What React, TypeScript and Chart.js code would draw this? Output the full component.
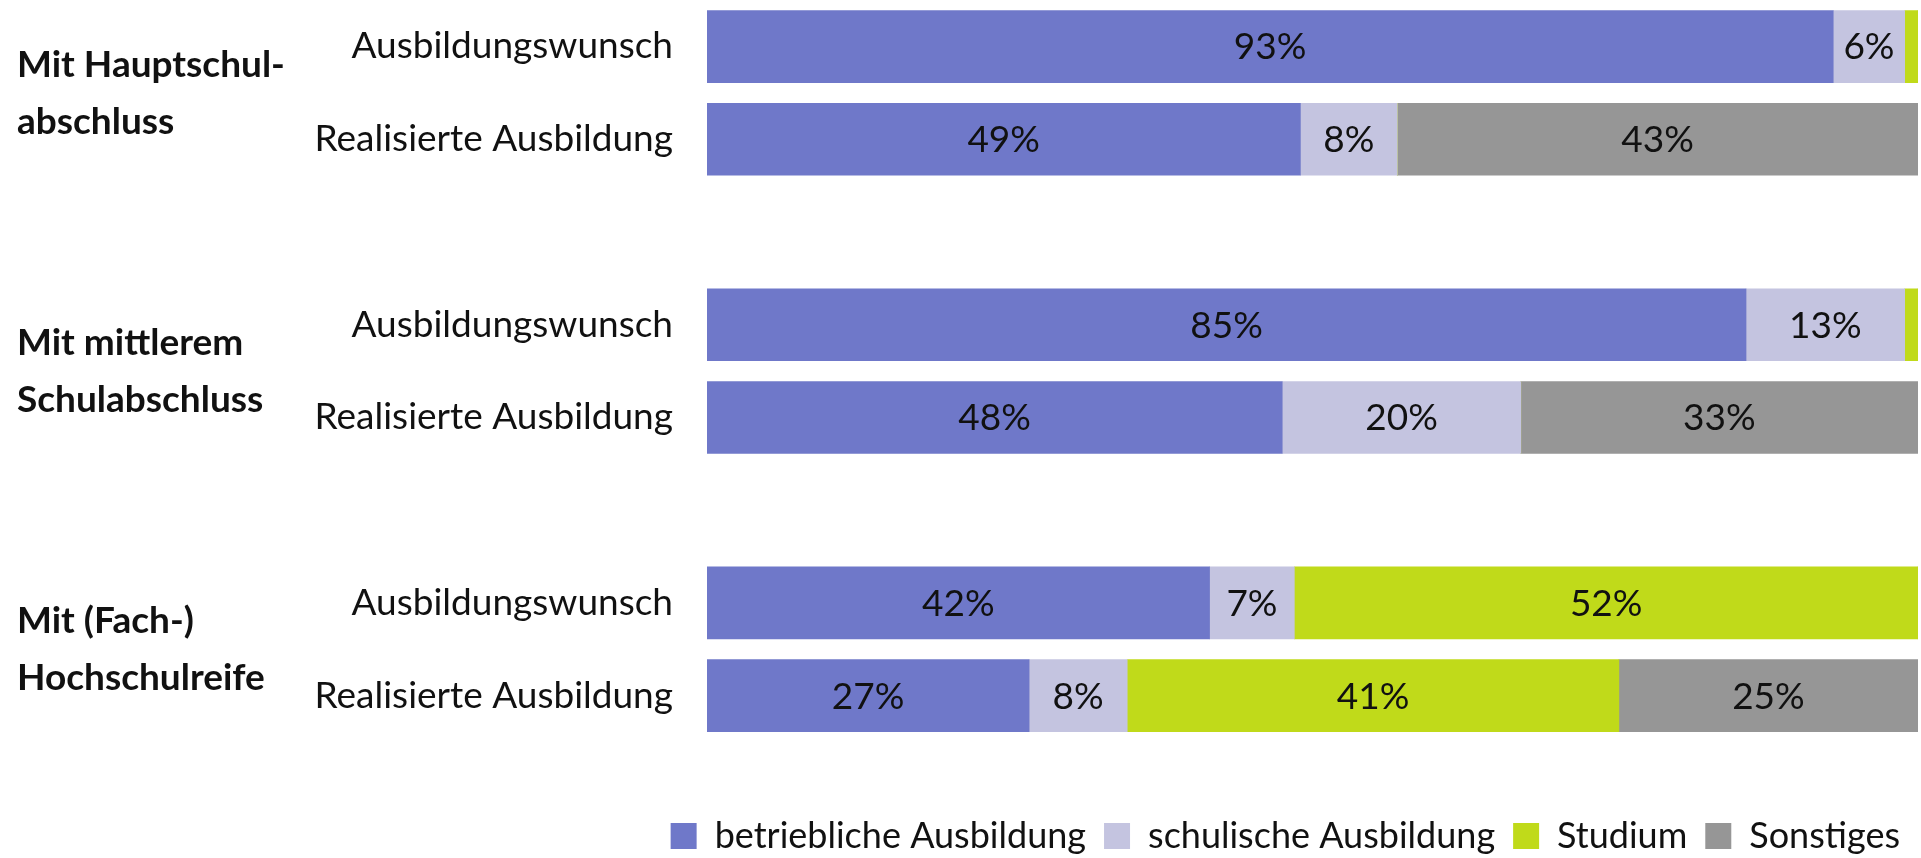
import React, { useEffect, useRef } from 'react';
import { Chart, registerables } from 'chart.js';

Chart.register(...registerables);

// Row categories (blank rows separate the three groups)
const categories = [
  'Ausbildungswunsch',
  'Realisierte Ausbildung',
  '',
  'Ausbildungswunsch',
  'Realisierte Ausbildung',
  '',
  'Ausbildungswunsch',
  'Realisierte Ausbildung',
];

const groupLabels = [
  ['Mit Hauptschul-', 'abschluss'],
  ['Mit mittlerem', 'Schulabschluss'],
  ['Mit (Fach-)', 'Hochschulreife'],
];

const seriesNames = ['betriebliche Ausbildung', 'schulische Ausbildung', 'Studium', 'Sonstiges'];

// Segment widths (percent)
const betrieblich = [93.0, 49.0, null, 85.8, 47.5, null, 41.5, 26.6];
const schulisch = [5.9, 8.0, null, 13.1, 19.7, null, 7.0, 8.1];
const studium = [1.1, 0, null, 1.1, 0, null, 51.5, 40.6];
const sonstiges = [0, 43.0, null, 0, 32.8, null, 0, 24.7];

// Printed labels
const betrieblichLabels = ['93%', '49%', '', '85%', '48%', '', '42%', '27%'];
const schulischLabels = ['6%', '8%', '', '13%', '20%', '', '7%', '8%'];
const studiumLabels = ['', '', '', '', '', '', '52%', '41%'];
const sonstigesLabels = ['', '43%', '', '', '33%', '', '', '25%'];

const colors = ['#6F78C9', '#C4C4E0', '#C0DA1A', '#969696'];
const FONT = 'Lato';
const TEXT = '#111111';

export default function App() {
  const ref = useRef<HTMLCanvasElement>(null);

  useEffect(() => {
    if (!ref.current) return;
    const seriesValues = [betrieblich, schulisch, studium, sonstiges];
    const seriesLabels = [betrieblichLabels, schulischLabels, studiumLabels, sonstigesLabels];

    const segLabels = {
      id: 'segLabels',
      afterDatasetsDraw(chart: any) {
        const ctx = chart.ctx;
        ctx.save();
        ctx.font = `37px ${FONT}`;
        ctx.fillStyle = TEXT;
        ctx.textAlign = 'center';
        ctx.textBaseline = 'middle';
        chart.data.datasets.forEach((_ds: any, di: number) => {
          const meta = chart.getDatasetMeta(di);
          meta.data.forEach((el: any, i: number) => {
            const t = seriesLabels[di][i];
            if (!t) return;
            const p = el.getProps(['x', 'base', 'y'], true);
            ctx.fillText(t, (p.x + p.base) / 2, p.y + 1);
          });
        });
        ctx.restore();
      },
    };

    const groupPlugin = {
      id: 'groupLabels',
      afterDraw(chart: any) {
        const ctx = chart.ctx;
        const ys = chart.scales.y;
        ctx.save();
        ctx.font = `bold 37px ${FONT}`;
        ctx.fillStyle = TEXT;
        ctx.textAlign = 'left';
        ctx.textBaseline = 'alphabetic';
        groupLabels.forEach((lines, g) => {
          const c = (ys.getPixelForValue(3 * g) + ys.getPixelForValue(3 * g + 1)) / 2;
          ctx.fillText(lines[0], 17, c - 16);
          ctx.fillText(lines[1], 17, c + 41);
        });
        ctx.restore();
      },
    };

    const chart = new Chart(ref.current, {
      type: 'bar',
      data: {
        labels: categories,
        datasets: seriesNames.map((name, i) => ({
          label: name,
          data: seriesValues[i] as any,
          backgroundColor: colors[i],
          borderWidth: 0,
          barThickness: 72,
        })),
      },
      options: {
        indexAxis: 'y',
        responsive: false,
        animation: false,
        layout: { padding: { left: 0, right: 3, top: 0, bottom: 0 } },
        scales: {
          x: {
            stacked: true,
            min: 0,
            max: 100,
            display: true,
            grid: { display: false, drawTicks: false },
            border: { display: false },
            ticks: { display: false },
            afterFit: (s: any) => {
              s.height = 58;
            },
          },
          y: {
            stacked: true,
            grid: { display: false, drawTicks: true, tickLength: 34 },
            border: { display: false },
            ticks: {
              autoSkip: false,
              padding: 0,
              color: TEXT,
              font: { family: FONT, size: 37, lineHeight: 0.01 },
            },
            afterFit: (s: any) => {
              s.width = 707;
            },
          },
        },
        plugins: {
          tooltip: { enabled: false },
          legend: {
            position: 'bottom',
            align: 'end',
            labels: {
              boxWidth: 26,
              boxHeight: 26,
              padding: 18,
              color: TEXT,
              font: { family: FONT, size: 36 },
            },
          },
        },
      },
      plugins: [segLabels, groupPlugin],
    });
    return () => chart.destroy();
  }, []);

  return (
    <div style={{ position: 'fixed', left: 0, top: 0, width: 1921, height: 864, background: '#fff' }}>
      <canvas ref={ref} width={1921} height={864} style={{ display: 'block' }} />
    </div>
  );
}
